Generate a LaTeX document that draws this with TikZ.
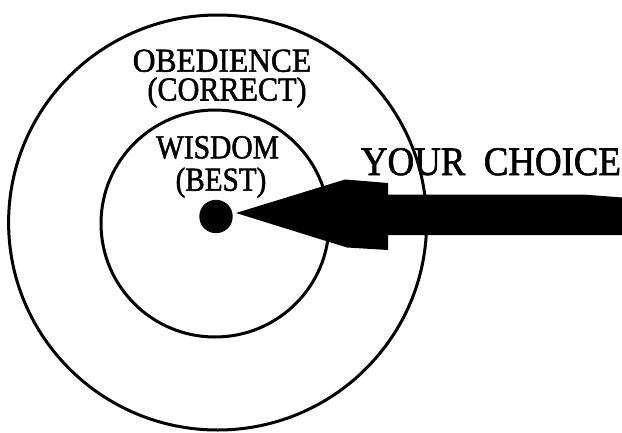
\documentclass[tikz,border=0pt]{standalone}
\usepackage{fontspec}
\usepackage{graphicx}
\setmainfont{Liberation Serif}
\newfontfamily\labfont[FakeBold=1.6]{Liberation Serif}
\begin{document}
\begin{tikzpicture}[x=1pt,y=-1pt,
  ring/.style={draw=black,line width=3pt},
  lab/.style={inner sep=0pt,anchor=base,font=\labfont\fontsize{33.5}{34}\selectfont},
  biglab/.style={inner sep=0pt,anchor=base,font=\labfont\fontsize{40.5}{42}\selectfont}]
\useasboundingbox (0,0) rectangle (622,432);
\fill[white] (0,0) rectangle (622,432);
% rings
\draw[ring] (217.6,222.5) ellipse [x radius=209, y radius=207.5];
\draw[ring] (215,223.5) ellipse [x radius=114, y radius=113.5];
% bullseye
\node[circle,fill=black,minimum size=33.4pt,inner sep=0pt] (dot) at (216,216.5) {};
% labels
\node[lab] (obed) at (222,71.7) {\scalebox{0.94}[1]{OBEDIENCE}};
\node[lab] (corr) at (227,100.5) {\scalebox{0.9}[1]{(CORRECT)}};
\node[lab] (wis) at (217.5,158.3) {\scalebox{0.88}[1]{WISDOM}};
\node[lab] (best) at (221,190.7) {\scalebox{0.87}[1]{(BEST)}};
% arrow
\coordinate (tip) at (236,213);
\fill[black] (tip) -- (345,179.5) -- (388,183) -- (388,194.5) -- (583,194.5)
  -- (622,197.5) -- (622,235) -- (388,235) -- (388,250) -- (347,247.5) -- cycle;
\node[biglab] (choice) at (491,175) {\scalebox{0.91}[1]{YOUR\ \ CHOICE}};
\end{tikzpicture}
\end{document}
